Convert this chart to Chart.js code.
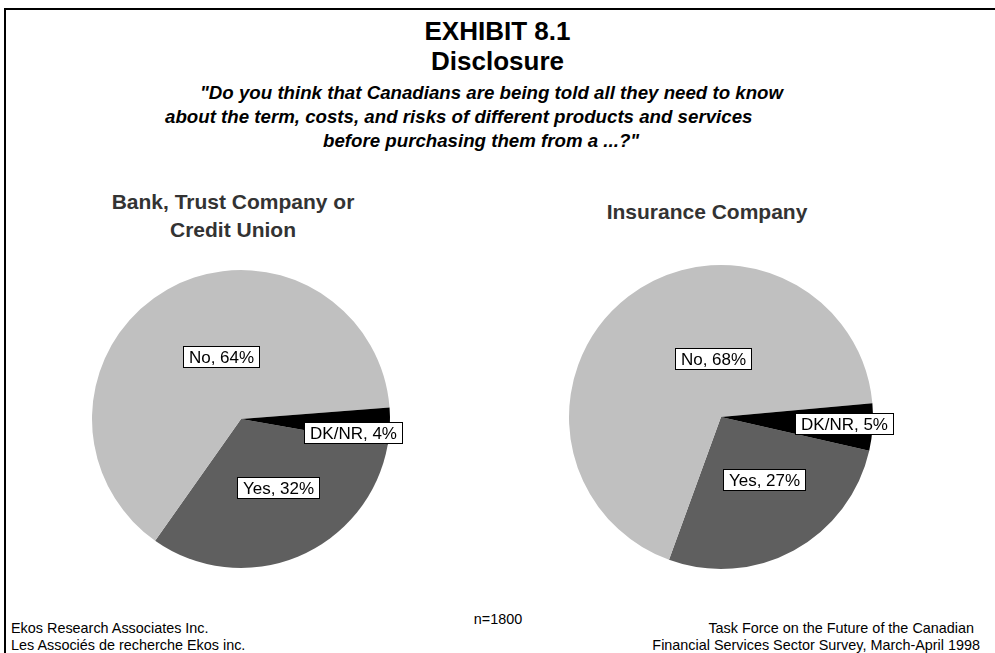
<!DOCTYPE html>
<html>
<head>
<meta charset="utf-8">
<script src="https://cdn.jsdelivr.net/npm/chart.js@4.4.1/dist/chart.umd.min.js"></script>
<style>
  html, body { margin: 0; padding: 0; background: #fff; }
  #page { position: relative; width: 995px; height: 653px; overflow: hidden; font-family: "Liberation Sans", Arial, sans-serif; color: #000; }
  .frame-top { position: absolute; left: 5px; top: 8px; width: 990px; height: 2px; background: #000; }
  .frame-left { position: absolute; left: 4px; top: 8px; width: 2px; height: 645px; background: #000; }
  .t { position: absolute; white-space: pre; line-height: 1; }
  .c { text-align: center; }
  .title { font-weight: bold; font-size: 26px; left: 0; width: 995px; }
  .q { font-weight: bold; font-style: italic; font-size: 18.7px; }
  .sub { font-weight: bold; font-size: 21px; color: #333; }
  .foot { font-size: 14.4px; }
  canvas { position: absolute; }
</style>
</head>
<body>
<div id="page">
  <div class="frame-top"></div>
  <div class="frame-left"></div>

  <div class="t c title" style="top:18px">EXHIBIT 8.1</div>
  <div class="t c title" style="top:48px">Disclosure</div>
  <div class="t q" style="left:200px; top:84px">"Do you think that Canadians are being told all they need to know</div>
  <div class="t q" style="left:165px; top:108px">about the term, costs, and risks of different products and services</div>
  <div class="t q" style="left:323px; top:132px">before purchasing them from a ...?"</div>

  <div class="t c sub" style="left:83px; width:300px; top:191px">Bank, Trust Company or</div>
  <div class="t c sub" style="left:83px; width:300px; top:219px">Credit Union</div>
  <div class="t c sub" style="left:557px; width:300px; top:201px">Insurance Company</div>

  <canvas id="bankPie" width="497" height="350" style="left:0; top:250px"></canvas>
  <canvas id="insPie" width="498" height="350" style="left:497px; top:250px"></canvas>

  <div class="t c foot" style="left:398px; width:200px; top:612px">n=1800</div>
  <div class="t foot" style="left:11px; top:621px">Ekos Research Associates Inc.</div>
  <div class="t foot" style="left:11px; top:638px">Les Associés de recherche Ekos inc.</div>
  <div class="t foot" style="right:21px; top:621px; text-align:right">Task Force on the Future of the Canadian</div>
  <div class="t foot" style="right:15px; top:638px; text-align:right">Financial Services Sector Survey, March-April 1998</div>
</div>

<script>
// answers, in drawing order (clockwise)
const answers = ['Yes', 'No', 'DK/NR'];
const bankValues = [32, 64, 4];
const insuranceValues = [27, 68, 5];
const sliceColors = ['#5f5f5f', '#c0c0c0', '#000000'];

// boxed "Label, n%" tags placed inside / near each slice
const boxLabels = {
    id: 'boxLabels',
    afterDatasetsDraw(chart, args, opts) {
        const ctx = chart.ctx;
        const meta = chart.getDatasetMeta(0);
        const values = chart.data.datasets[0].data;
        ctx.save();
        ctx.font = '17px "Liberation Sans", Arial, sans-serif';
        ctx.textAlign = 'center';
        ctx.textBaseline = 'middle';
        meta.data.forEach((arc, i) => {
            const p = arc.getProps(['x', 'y', 'startAngle', 'endAngle', 'outerRadius'], true);
            const place = opts.place[i];
            const ang = (p.startAngle + p.endAngle) / 2 + place[1] * Math.PI / 180;
            const r = p.outerRadius * place[0];
            const cx = p.x + Math.cos(ang) * r;
            const cy = p.y + Math.sin(ang) * r;
            const text = chart.data.labels[i] + ', ' + values[i] + '%';
            const w = Math.round(ctx.measureText(text).width + 11);
            const h = 21;
            const x0 = Math.round(cx - w / 2) + 0.5;
            const y0 = Math.round(cy - h / 2) + 0.5;
            ctx.fillStyle = '#fff';
            ctx.fillRect(x0, y0, w, h);
            ctx.strokeStyle = '#000';
            ctx.lineWidth = 1;
            ctx.strokeRect(x0, y0, w, h);
            ctx.fillStyle = '#000';
            ctx.fillText(text, x0 + w / 2, y0 + h / 2 + 1);
        });
        ctx.restore();
    }
};

function createPie(id, values, rotation, padding, place) {
    const el = document.getElementById(id);
    if (!el) return;
    new Chart(el.getContext('2d'), {
        type: 'pie',
        data: {
            labels: answers,
            datasets: [{
                data: values,
                backgroundColor: sliceColors,
                borderWidth: 0,
                hoverOffset: 0
            }]
        },
        options: {
            responsive: false,
            animation: false,
            rotation: rotation,
            layout: { padding: padding },
            events: [],
            plugins: {
                legend: { display: false },
                tooltip: { enabled: false },
                boxLabels: { place: place }
            }
        },
        plugins: [boxLabels]
    });
}

// [radius fraction, angle shift in degrees] for Yes, No, DK/NR
createPie('bankPie', bankValues, 100,
    { left: 92, right: 107, top: 20, bottom: 32 },
    [[0.52, -6], [0.44, 12], [0.76, 4]]);
createPie('insPie', insuranceValues, 102.8,
    { left: 72, right: 122, top: 15, bottom: 31 },
    [[0.5, -6], [0.39, 30], [0.81, -1]]);
</script>
</body>
</html>
